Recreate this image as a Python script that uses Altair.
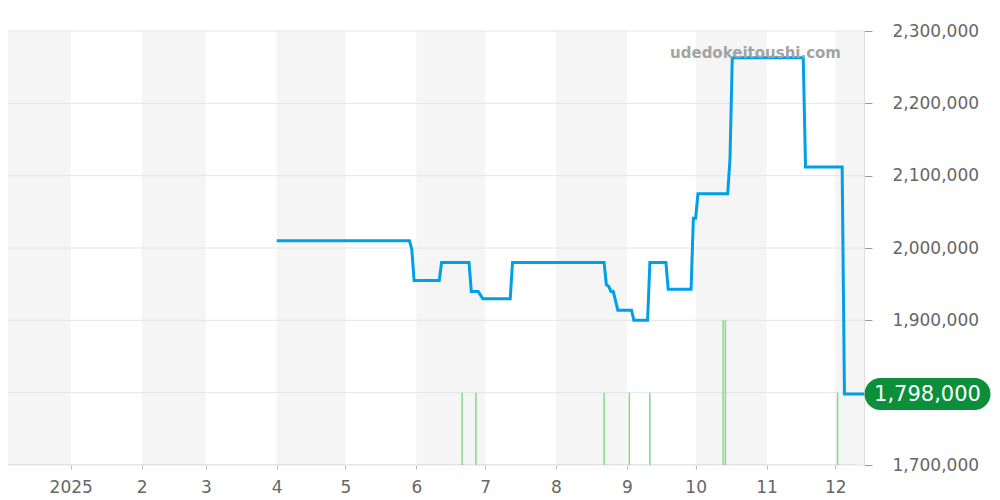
import altair as alt
import pandas as pd

# ---- data ----
line_dates = [
    "2025-04-01", "2025-05-29", "2025-05-30", "2025-05-31", "2025-06-11", "2025-06-12",
    "2025-06-24", "2025-06-25", "2025-06-28", "2025-06-30", "2025-07-12", "2025-07-13",
    "2025-08-22", "2025-08-23", "2025-08-24", "2025-08-25", "2025-08-26", "2025-08-28",
    "2025-09-03", "2025-09-04", "2025-09-10", "2025-09-11", "2025-09-18", "2025-09-19",
    "2025-09-29", "2025-09-30", "2025-10-01", "2025-10-02", "2025-10-15", "2025-10-16",
    "2025-10-17", "2025-11-17", "2025-11-18", "2025-12-04", "2025-12-05", "2025-12-14",
]
line_prices = [
    2010000, 2010000, 1998000, 1955000, 1955000, 1980000,
    1980000, 1940000, 1940000, 1930000, 1930000, 1980000,
    1980000, 1949000, 1947000, 1940000, 1940000, 1914000,
    1914000, 1900000, 1900000, 1980000, 1980000, 1943000,
    1943000, 2041000, 2041000, 2075000, 2075000, 2123000,
    2263000, 2263000, 2112000, 2112000, 1798000, 1798000,
]

bar_dates = ["2025-06-21", "2025-06-27", "2025-08-22", "2025-09-02", "2025-09-11",
             "2025-10-13", "2025-10-14", "2025-12-02"]
bar_counts = [1, 1, 1, 1, 1, 2, 2, 1]

band_starts = ["2024-11-01", "2025-02-01", "2025-04-01", "2025-06-01", "2025-08-01",
               "2025-10-01", "2025-12-01"]
band_ends = ["2025-01-01", "2025-03-01", "2025-05-01", "2025-07-01", "2025-09-01",
             "2025-11-01", "2026-01-01"]

y_ticks = [1700000, 1800000, 1900000, 2000000, 2100000, 2200000, 2300000]
y_labelled = [1700000, 1900000, 2000000, 2100000, 2200000, 2300000]
tick_months = list(range(1, 13))
current_price = 1798000
watermark = "udedokeitoushi.com"
baseline_range = ["2024-11-01", "2025-12-10"]

# ---- scales / axes ----
W, H = 863, 434
FONT = "DejaVu Sans"

xscale = alt.Scale(
    type="utc",
    domain=[alt.DateTime(year=2024, month=12, date=1, hours=13, utc=True),
            alt.DateTime(year=2025, month=12, date=13, hours=13, utc=True)],
)
yscale = alt.Scale(domain=[y_ticks[0], y_ticks[-1]], nice=False, zero=False)

xaxis = alt.Axis(
    title=None,
    values=[alt.DateTime(year=2025, month=m, date=1, utc=True) for m in tick_months],
    labelExpr="utcmonth(datum.value) === 0 ? utcFormat(datum.value, '%Y') : '' + (utcmonth(datum.value) + 1)",
    grid=False, domain=False, tickSize=4, tickColor="#bbbbbb",
    labelFontSize=17, labelColor="#666666", labelFont=FONT, labelPadding=10,
)
yaxis = alt.Axis(
    title=None, orient="right", values=y_labelled, format=",d", grid=False,
    tickSize=8, tickColor="#999999", domainColor="#e0e0e0",
    labelFontSize=17, labelColor="#666666", labelFont=FONT, labelPadding=20,
)

bands_df = pd.DataFrame({"start": band_starts, "end": band_ends})
line_df = pd.DataFrame({"date": line_dates, "price": line_prices})
bars_df = pd.DataFrame({"date": bar_dates, "count": bar_counts})
grid_df = pd.DataFrame({"v": y_ticks})
base_df = pd.DataFrame({"start": [baseline_range[0]], "end": [baseline_range[1]], "v": [y_ticks[0]]})
badge_df = pd.DataFrame({"price": [current_price], "label": [f"{current_price:,}"]})
wm_df = pd.DataFrame({"t": [watermark]})

bands = alt.Chart(bands_df).mark_rect(color="#f5f5f5", clip=True).encode(
    x=alt.X("start:T", scale=xscale, axis=xaxis), x2="end:T"
)

grid = alt.Chart(grid_df).mark_rule(color="#e4e4e4", strokeWidth=1).encode(
    y=alt.Y("v:Q", scale=yscale, axis=yaxis)
)

baseline = alt.Chart(base_df).mark_rule(
    color="#9fd89f", strokeWidth=1, strokeDash=[1, 1], clip=True
).encode(
    x=alt.X("start:T", scale=xscale, axis=xaxis), x2="end:T",
    y=alt.Y("v:Q", scale=yscale, axis=yaxis),
)

bars = alt.Chart(bars_df).transform_calculate(
    base=str(y_ticks[0]), top=f"{y_ticks[0]} + datum.count * 100000"
).mark_rule(color="#8fd98f", strokeWidth=1.6).encode(
    x=alt.X("date:T", scale=xscale, axis=xaxis),
    y=alt.Y("base:Q", scale=yscale, axis=yaxis), y2="top:Q",
)

line = alt.Chart(line_df).mark_line(color="#00a0e9", strokeWidth=3, clip=True).encode(
    x=alt.X("date:T", scale=xscale, axis=xaxis),
    y=alt.Y("price:Q", scale=yscale, axis=yaxis),
)

wm = alt.Chart(wm_df).mark_text(
    align="right", baseline="middle", font=FONT, fontSize=15, fontWeight="bold", color="#a3a3a3"
).encode(text="t:N", x=alt.value(840), y=alt.value(22))

badge_path = ("M-0.746,-0.254 L0.746,-0.254 A0.254,0.254 0 0 1 0.746,0.254 "
              "L-0.746,0.254 A0.254,0.254 0 0 1 -0.746,-0.254 Z")
badge = alt.Chart(badge_df).mark_point(
    shape=badge_path, size=126 * 126, filled=True, color="#0b8f3a", opacity=1, strokeWidth=0
).encode(x=alt.value(926.5), y=alt.Y("price:Q", scale=yscale, axis=yaxis))

badge_text = alt.Chart(badge_df).mark_text(
    align="center", baseline="middle", font=FONT, fontSize=21, color="white", dy=1
).encode(text="label:N", x=alt.value(926.5), y=alt.Y("price:Q", scale=yscale, axis=yaxis))

chart = alt.layer(bands, grid, baseline, bars, line, wm, badge, badge_text).properties(
    width=W, height=H,
    padding={"left": -8, "top": 14, "right": 0, "bottom": 0},
    background="white",
).configure_view(stroke=None)

chart.save("out.html", embed_options={"renderer": "svg", "actions": False})
